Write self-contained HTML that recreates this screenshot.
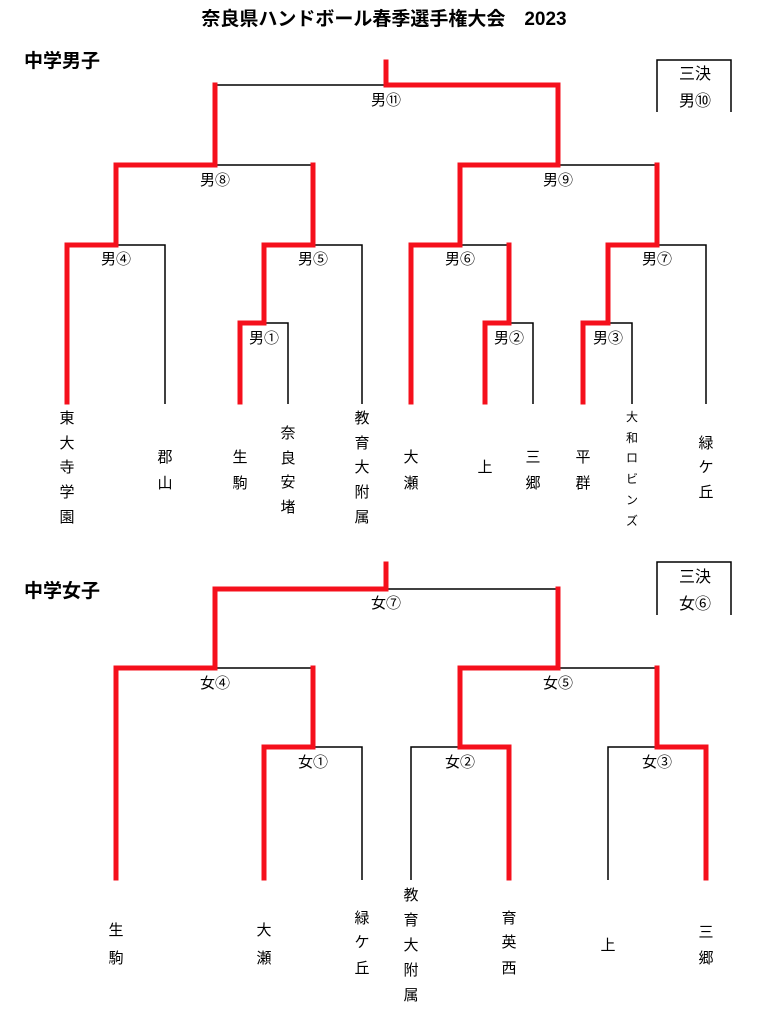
<!DOCTYPE html>
<html><head><meta charset="utf-8"><style>
html,body{margin:0;padding:0;background:#fff;}
svg{display:block;}
text{font-family:"Liberation Sans","Noto Sans CJK JP",sans-serif;fill:#000;}
.l{font-size:15px;text-anchor:middle;}
.k{font-size:16px;text-anchor:middle;}
.n{font-size:15px;text-anchor:middle;}
.s{font-size:12px;text-anchor:middle;}
.b{fill:none;stroke:#000;stroke-width:1.5;}
.r{fill:none;stroke:#f5101c;stroke-width:5;stroke-linejoin:miter;stroke-linecap:square;}
</style></head><body>
<svg width="768" height="1023" viewBox="0 0 768 1023" xmlns="http://www.w3.org/2000/svg">
<text x="384" y="25" style="font-size:19px;font-weight:bold;text-anchor:middle">奈良県ハンドボール春季選手権大会　2023</text>
<text x="24" y="67" style="font-size:19px;font-weight:bold">中学男子</text>
<text x="24" y="597" style="font-size:19px;font-weight:bold">中学女子</text>

<g class="b">
<path d="M657 112 V60 H731 V112"/>
<path d="M215 85 H386"/>
<path d="M215 165 H313"/>
<path d="M558 165 H657"/>
<path d="M116 245 H165 V404"/>
<path d="M313 245 H362 V404"/>
<path d="M460 245 H509"/>
<path d="M657 245 H706 V404"/>
<path d="M264 323 H288 V404"/>
<path d="M509 323 H533 V404"/>
<path d="M608 323 H632 V404"/>
</g>
<g class="r">
<path d="M386 62 V85 H558 V165"/>
<path d="M67 402 V245 H116 V165 H215 V85"/>
<path d="M240 402 V323 H264 V245 H313 V165"/>
<path d="M411 402 V245 H460 V165 H558"/>
<path d="M485 402 V323 H509 V245"/>
<path d="M583 402 V323 H608 V245 H657 V165"/>
</g>
<g class="k">
<text x="695" y="79">三決</text><text x="695" y="106">男⑩</text>
<text x="695" y="582">三決</text><text x="695" y="609">女⑥</text>
</g>
<g class="l">
<text x="386" y="105">男⑪</text>
<text x="215" y="185">男⑧</text><text x="558" y="185">男⑨</text>
<text x="116" y="264">男④</text><text x="313" y="264">男⑤</text><text x="460" y="264">男⑥</text><text x="657" y="264">男⑦</text>
<text x="264" y="343">男①</text><text x="509" y="343">男②</text><text x="608" y="343">男③</text>
</g>
<g class="n">
<text x="67" y="423">東</text><text x="67" y="448">大</text><text x="67" y="472">寺</text><text x="67" y="497">学</text><text x="67" y="522">園</text>
<text x="165" y="462">郡</text><text x="165" y="488">山</text>
<text x="240" y="462">生</text><text x="240" y="488">駒</text>
<text x="288" y="438">奈</text><text x="288" y="463">良</text><text x="288" y="487">安</text><text x="288" y="512">堵</text>
<text x="362" y="423">教</text><text x="362" y="448">育</text><text x="362" y="472">大</text><text x="362" y="497">附</text><text x="362" y="522">属</text>
<text x="411" y="462">大</text><text x="411" y="488">瀬</text>
<text x="485" y="472">上</text>
<text x="533" y="462">三</text><text x="533" y="488">郷</text>
<text x="583" y="462">平</text><text x="583" y="488">群</text>
<text x="706" y="448">緑</text><text x="706" y="472">ケ</text><text x="706" y="497">丘</text>
</g>
<g class="s">
<text x="632" y="421">大</text><text x="632" y="442">和</text><text x="632" y="462">ロ</text><text x="632" y="483">ビ</text><text x="632" y="504">ン</text><text x="632" y="525">ズ</text>
</g>

<g class="b">
<path d="M657 615 V562 H731 V615"/>
<path d="M386 589 H558"/>
<path d="M215 668 H313"/>
<path d="M558 668 H657"/>
<path d="M313 747 H362 V880"/>
<path d="M411 880 V747 H460"/>
<path d="M608 880 V747 H657"/>
</g>
<g class="r">
<path d="M386 564 V589 H215 V668 H116 V878"/>
<path d="M264 878 V747 H313 V668"/>
<path d="M509 878 V747 H460 V668 H558 V589"/>
<path d="M706 878 V747 H657 V668"/>
</g>
<g class="l">
<text x="386" y="608">女⑦</text>
<text x="215" y="688">女④</text><text x="558" y="688">女⑤</text>
<text x="313" y="767">女①</text><text x="460" y="767">女②</text><text x="657" y="767">女③</text>
</g>
<g class="n">
<text x="116" y="935">生</text><text x="116" y="963">駒</text>
<text x="264" y="935">大</text><text x="264" y="963">瀬</text>
<text x="362" y="923">緑</text><text x="362" y="947">ケ</text><text x="362" y="973">丘</text>
<text x="411" y="900">教</text><text x="411" y="925">育</text><text x="411" y="950">大</text><text x="411" y="975">附</text><text x="411" y="1000">属</text>
<text x="509" y="923">育</text><text x="509" y="947">英</text><text x="509" y="973">西</text>
<text x="608" y="950">上</text>
<text x="706" y="937">三</text><text x="706" y="963">郷</text>
</g>
</svg>
</body></html>
